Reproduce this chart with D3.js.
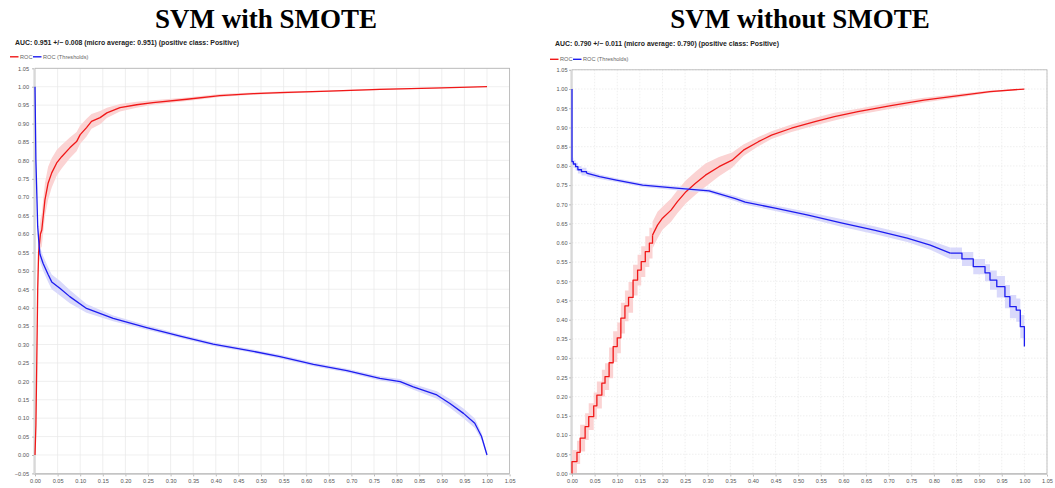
<!DOCTYPE html>
<html>
<head>
<meta charset="utf-8">
<script src="https://cdn.jsdelivr.net/npm/d3@7"></script>
<style>
  body { margin: 0; background: #fff; }
  svg { display: block; }
  .tick-label { font-family: "Liberation Sans", Arial, sans-serif; font-size: 5.6px; fill: #555; }
</style>
</head>
<body>
<div id="chart"></div>
<script>
// [fpr, tpr, band half width]
const smoteRoc = [
  [0, 0, 0], [0.002, 0.08, 0.01], [0.004, 0.26, 0.02], [0.006, 0.45, 0.03], [0.008, 0.55, 0.04],
  [0.012, 0.6, 0.04], [0.015, 0.611, 0.045], [0.022, 0.693, 0.045], [0.029, 0.738, 0.045],
  [0.037, 0.766, 0.04], [0.048, 0.793, 0.035], [0.059, 0.81, 0.032], [0.077, 0.834, 0.028],
  [0.092, 0.851, 0.026], [0.1, 0.87, 0.025], [0.114, 0.889, 0.024], [0.125, 0.906, 0.02],
  [0.144, 0.916, 0.018], [0.159, 0.929, 0.014], [0.188, 0.943, 0.01], [0.225, 0.951, 0.008],
  [0.261, 0.957, 0.006], [0.336, 0.966, 0.005], [0.409, 0.976, 0.004], [0.483, 0.981, 0.003],
  [0.542, 0.984, 0.003], [0.65, 0.988, 0.002], [0.763, 0.993, 0.002], [0.9, 0.997, 0.001], [1.0, 1.0, 0]
]
const smoteThresholds = [
  [0, 1.0, 0], [0.002, 0.8, 0.005], [0.004, 0.71, 0.01], [0.006, 0.62, 0.015], [0.009, 0.57, 0.015],
  [0.011, 0.545, 0.02], [0.018, 0.52, 0.02], [0.029, 0.49, 0.02], [0.037, 0.47, 0.02],
  [0.055, 0.453, 0.02], [0.077, 0.43, 0.018], [0.114, 0.398, 0.012], [0.173, 0.371, 0.008],
  [0.247, 0.346, 0.006], [0.321, 0.323, 0.005], [0.394, 0.301, 0.005], [0.468, 0.285, 0.005],
  [0.542, 0.267, 0.005], [0.616, 0.246, 0.005], [0.69, 0.229, 0.005], [0.763, 0.208, 0.006],
  [0.808, 0.199, 0.007], [0.837, 0.185, 0.008], [0.889, 0.163, 0.01], [0.918, 0.14, 0.012],
  [0.948, 0.113, 0.013], [0.973, 0.086, 0.013], [0.988, 0.05, 0.01], [1.0, 0.0, 0.005]
]

// without SMOTE: stair parts and smoother parts
const plainRocSteps = [
  [0, 0, 0.01], [0, 0.031, 0.03], [0.011, 0.055, 0.03], [0.018, 0.092, 0.035], [0.029, 0.122, 0.035],
  [0.037, 0.148, 0.035], [0.048, 0.176, 0.035], [0.055, 0.204, 0.035], [0.066, 0.235, 0.035],
  [0.073, 0.252, 0.035], [0.082, 0.288, 0.04], [0.091, 0.33, 0.04], [0.1, 0.353, 0.04],
  [0.108, 0.404, 0.04], [0.117, 0.436, 0.04], [0.125, 0.458, 0.04], [0.135, 0.503, 0.04],
  [0.145, 0.529, 0.04], [0.153, 0.551, 0.04], [0.162, 0.577, 0.04], [0.171, 0.599, 0.04],
  [0.178, 0.62, 0.035]
]
const plainRocCurve = [
  [0.178, 0.62, 0.035], [0.189, 0.646, 0.035], [0.2, 0.664, 0.03], [0.219, 0.685, 0.03],
  [0.233, 0.707, 0.03], [0.252, 0.733, 0.03], [0.273, 0.755, 0.03], [0.295, 0.776, 0.03],
  [0.325, 0.798, 0.025], [0.354, 0.815, 0.02], [0.379, 0.841, 0.015], [0.412, 0.863, 0.012],
  [0.441, 0.88, 0.01], [0.485, 0.898, 0.01], [0.537, 0.915, 0.01], [0.58, 0.928, 0.01],
  [0.632, 0.941, 0.008], [0.705, 0.957, 0.008], [0.778, 0.971, 0.006], [0.851, 0.982, 0.005],
  [0.924, 0.993, 0.003], [1.0, 1.0, 0]
]
const plainThrHead = [
  [0, 1.0, 0], [0, 0.811, 0.01], [0.003, 0.805, 0.01], [0.008, 0.798, 0.01],
  [0.013, 0.79, 0.01], [0.021, 0.785, 0.01], [0.032, 0.781, 0.008]
]
const plainThrBody = [
  [0.032, 0.781, 0.008], [0.061, 0.772, 0.006], [0.098, 0.763, 0.005], [0.156, 0.75, 0.005],
  [0.23, 0.742, 0.005], [0.303, 0.735, 0.005], [0.361, 0.715, 0.007], [0.383, 0.706, 0.007],
  [0.449, 0.69, 0.007], [0.522, 0.672, 0.008], [0.595, 0.652, 0.01], [0.668, 0.633, 0.01],
  [0.741, 0.612, 0.01], [0.792, 0.594, 0.012], [0.836, 0.573, 0.015]
]
const plainThrTail = [
  [0.836, 0.573, 0.015], [0.862, 0.558, 0.018], [0.887, 0.538, 0.02], [0.913, 0.522, 0.022],
  [0.924, 0.503, 0.025], [0.939, 0.486, 0.028], [0.957, 0.46, 0.03], [0.968, 0.434, 0.03],
  [0.982, 0.425, 0.03], [0.991, 0.382, 0.03], [1.0, 0.33, 0.02]
]

const xTicks = d3.range(0, 22).map(i => i * 0.05)
const yTicksSmote = d3.range(-1, 22).map(i => i * 0.05)
const yTicksPlain = d3.range(0, 22).map(i => i * 0.05)

const titles = ["SVM with SMOTE", "SVM without SMOTE"]
const aucTexts = [
  "AUC: 0.951 +/− 0.008 (micro average: 0.951) (positive class: Positive)",
  "AUC: 0.790 +/− 0.011 (micro average: 0.790) (positive class: Positive)"
]
const legendNames = ["ROC", "ROC (Thresholds)"]

const width = 1055
const height = 488
const RED = "#f01818"
const BLUE = "#1c1cf0"
const RED_BAND = "#fbd3d3"
const BLUE_BAND = "#d9d9fb"

const svg = d3.select("#chart").append("svg").attr("width", width).attr("height", height)

const drawPanel = (cfg) => {
    const x = d3.scaleLinear().domain([0, 1.05]).range(cfg.xRange)
    const y = d3.scaleLinear().domain(cfg.yDomain).range(cfg.yRange)
    const g = svg.append("g")
    const [x0, x1] = cfg.xRange
    const [yb, yt] = cfg.yRange

    // title + subtitle
    g.append("text")
        .attr("x", cfg.titleX).attr("y", 28)
        .attr("text-anchor", "middle")
        .style("font-family", "'Liberation Serif', 'Times New Roman', serif")
        .style("font-weight", "bold").style("font-size", "27px")
        .text(cfg.title)
    g.append("text")
        .attr("x", cfg.aucX).attr("y", cfg.aucY)
        .attr("textLength", 224).attr("lengthAdjust", "spacingAndGlyphs")
        .style("font-family", "'Liberation Sans', Arial, sans-serif")
        .style("font-weight", "bold").style("font-size", "7px").style("fill", "#222")
        .text(cfg.auc)

    // legend
    const lg = g.append("g").attr("transform", `translate(${cfg.legendX},${cfg.legendY})`)
    const items = [{ c: RED, t: legendNames[0], w: 0 }, { c: BLUE, t: legendNames[1], w: 23 }]
    items.forEach(it => {
        lg.append("line").attr("x1", it.w).attr("x2", it.w + 8.5).attr("y1", 0).attr("y2", 0)
            .attr("stroke", it.c).attr("stroke-width", 1.4)
        lg.append("text").attr("x", it.w + 10).attr("y", 2)
            .style("font-family", "'Liberation Sans', Arial, sans-serif")
            .style("font-size", "5.6px").style("fill", "#666").text(it.t)
    })

    // grid
    const grid = g.append("g").attr("stroke", "#e8e8e8").attr("stroke-width", 0.7)
    if (cfg.dashed) grid.attr("stroke-dasharray", "1.5,1.5")
    grid.selectAll(".gx").data(xTicks.slice(1)).join("line")
        .attr("x1", d => x(d)).attr("x2", d => x(d)).attr("y1", yt).attr("y2", yb)
    grid.selectAll(".gy").data(cfg.yTicks.slice(1)).join("line")
        .attr("x1", x0).attr("x2", x1).attr("y1", d => y(d)).attr("y2", d => y(d))

    // frame
    g.append("rect").attr("x", x0).attr("y", yt).attr("width", x1 - x0).attr("height", yb - yt)
        .attr("fill", "none").attr("stroke", "#b4b4b4").attr("stroke-width", 0.8)
    g.append("line").attr("x1", x0 - 1).attr("x2", x0 - 1).attr("y1", yt).attr("y2", yb + 1)
        .attr("stroke", "#cfcfcf").attr("stroke-width", 1)
    g.append("line").attr("x1", x0 - 1).attr("x2", x1).attr("y1", yb + 1).attr("y2", yb + 1)
        .attr("stroke", "#cfcfcf").attr("stroke-width", 1)

    // axes
    const yAxis = d3.axisLeft(y).tickValues(cfg.yTicks).tickFormat(d3.format(".2f")).tickSize(2).tickPadding(cfg.yPad)
    const xAxis = d3.axisBottom(x).tickValues(xTicks).tickFormat(d3.format(".2f")).tickSize(2).tickPadding(2.5)
    const ya = g.append("g").attr("transform", `translate(${x0 - 1},0)`).call(yAxis)
    const xa = g.append("g").attr("transform", `translate(0,${yb + 1})`).call(xAxis)
    ;[ya, xa].forEach(a => {
        a.select(".domain").remove()
        a.selectAll("line").attr("stroke", "#bbb")
        a.selectAll("text").attr("class", "tick-label").attr("font-size", null).attr("font-family", null)
    })
    ya.selectAll("text").text(d => d3.format(".2f")(d).replace("-", "-"))

    // series
    const plot = g.append("g")
    cfg.series.forEach(s => {
        const curve = s.step ? d3.curveStepAfter : d3.curveLinear
        const area = d3.area().curve(curve)
            .x(d => x(d[0])).y0(d => y(d[1] - d[2])).y1(d => y(d[1] + d[2]))
        plot.append("path").datum(s.data).attr("d", area).attr("fill", s.band)
    })
    cfg.series.forEach(s => {
        const curve = s.step ? d3.curveStepAfter : d3.curveLinear
        const line = d3.line().curve(curve).x(d => x(d[0])).y(d => y(d[1]))
        plot.append("path").datum(s.data).attr("d", line)
            .attr("fill", "none").attr("stroke", s.color).attr("stroke-width", 1.3)
            .attr("stroke-linejoin", "round")
    })
}

drawPanel({
    title: titles[0], titleX: 266, auc: aucTexts[0], aucX: 15, aucY: 44.5,
    legendX: 10, legendY: 56.8,
    xRange: [35, 509.6], yDomain: [-0.05, 1.05], yRange: [473.4, 68.3],
    yTicks: yTicksSmote, yPad: 3, dashed: false,
    series: [
        { data: smoteRoc, color: RED, band: RED_BAND },
        { data: smoteThresholds, color: BLUE, band: BLUE_BAND }
    ]
})

drawPanel({
    title: titles[1], titleX: 800, auc: aucTexts[1], aucX: 555, aucY: 46,
    legendX: 550, legendY: 59.3,
    xRange: [572, 1047], yDomain: [0, 1.05], yRange: [473.5, 69.8],
    yTicks: yTicksPlain, yPad: 1.5, dashed: true,
    series: [
        { data: plainRocSteps, color: RED, band: RED_BAND, step: true },
        { data: plainRocCurve, color: RED, band: RED_BAND },
        { data: plainThrHead, color: BLUE, band: BLUE_BAND, step: true },
        { data: plainThrBody, color: BLUE, band: BLUE_BAND },
        { data: plainThrTail, color: BLUE, band: BLUE_BAND, step: true }
    ]
})
</script>
</body>
</html>
